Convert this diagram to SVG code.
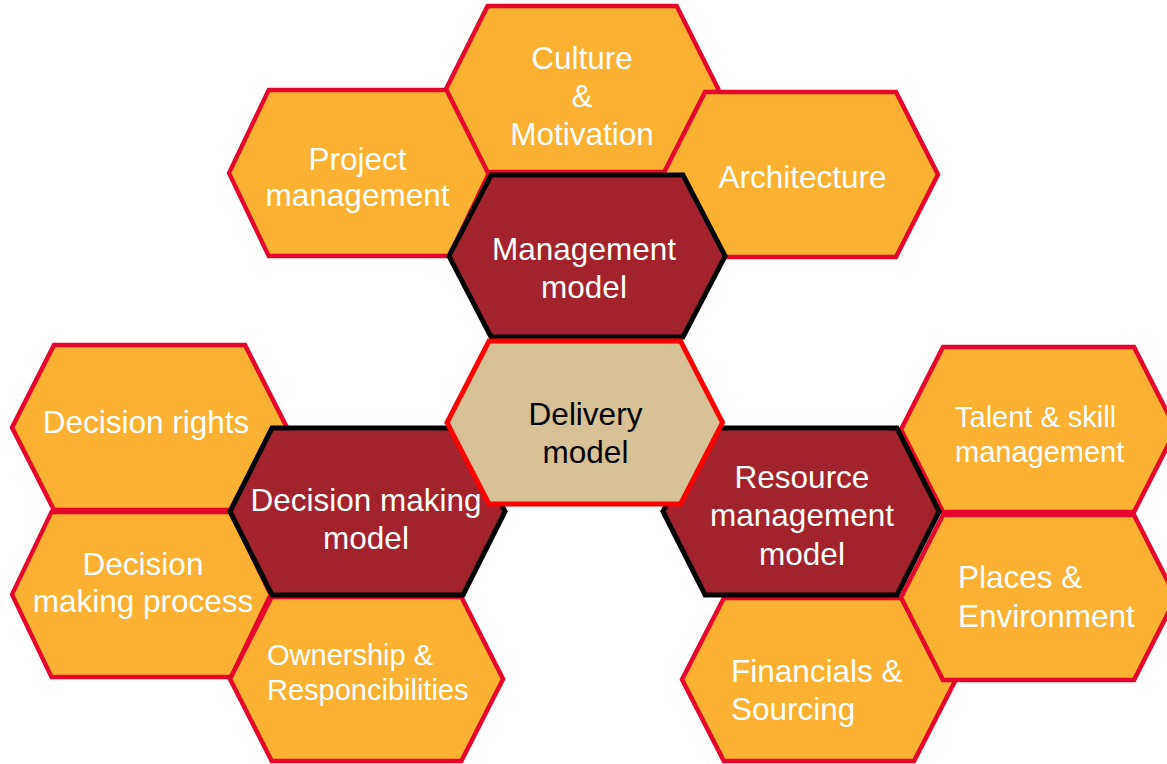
<svg xmlns="http://www.w3.org/2000/svg" width="1167" height="764" viewBox="0 0 1167 764">
<style>
.o{fill:#FBB131;stroke:#E5062B;stroke-width:4.5;stroke-linejoin:miter}
.d{fill:#A2232D;stroke:#000;stroke-width:5}
.c{fill:#D6C294;stroke:#FF0000;stroke-width:5}
text{font-family:"Liberation Sans",Arial,sans-serif;font-size:31.5px;fill:#fff}
.m{text-anchor:middle}
.s{font-size:29px}
.k{fill:#000}
</style>
<defs>
<polygon id="hex" points="0,82.5 42,0 233,0 275,82.5 233,165 42,165"/>
</defs>
<g id="connectors"/>
<g id="project"><use href="#hex" class="o" transform="translate(229,90) scale(0.945,1.006)"/>
<text class="m" x="357.5" y="170">Project</text><text class="m" x="357.5" y="206">management</text></g>
<g id="culture"><use href="#hex" class="o" transform="translate(446,6) scale(0.99,1.006)"/>
<text class="m" x="582" y="69">Culture</text><text class="m" x="582" y="107">&amp;</text><text class="m" x="582" y="145">Motivation</text></g>
<g id="architecture"><use href="#hex" class="o" transform="translate(663,92) scale(1,1)"/>
<text class="m" x="802.5" y="188">Architecture</text></g>
<g id="management"><use href="#hex" class="d" transform="translate(449,175) scale(1.004,0.982)"/>
<text class="m" x="584" y="260">Management</text><text class="m" x="584" y="298">model</text></g>
<g id="decision-rights"><use href="#hex" class="o" transform="translate(12,345) scale(1,1)"/>
<text class="m" x="146" y="433">Decision rights</text></g>
<g id="decision-process"><use href="#hex" class="o" transform="translate(12,512) scale(0.94,1)"/>
<text class="m" x="143" y="575">Decision</text><text class="m" x="143" y="612">making process</text></g>
<g id="ownership"><use href="#hex" class="o" transform="translate(230,597) scale(0.993,0.994)"/>
<text class="s" x="267" y="665">Ownership &amp;</text><text class="s" x="267" y="700">Responcibilities</text></g>
<g id="decision-model"><use href="#hex" class="d" transform="translate(230,428) scale(1,1.012)"/>
<text class="m" x="366" y="511">Decision making</text><text class="m" x="366" y="549">model</text></g>
<g id="financials"><use href="#hex" class="o" transform="translate(682,598) scale(0.996,0.988)"/>
<text x="731" y="682">Financials &amp;</text><text x="731" y="720">Sourcing</text></g>
<g id="talent"><use href="#hex" class="o" transform="translate(901,347) scale(1,1)"/>
<text class="s" x="955" y="427">Talent &amp; skill</text><text class="s" x="955" y="462">management</text></g>
<g id="places"><use href="#hex" class="o" transform="translate(901,515) scale(1,1)"/>
<text x="958" y="588">Places &amp;</text><text x="958" y="627">Environment</text></g>
<g id="resource"><use href="#hex" class="d" transform="translate(663,428) scale(1.004,1.012)"/>
<text class="m" x="802" y="488">Resource</text><text class="m" x="802" y="526">management</text><text class="m" x="802" y="565">model</text></g>
<g id="delivery"><use href="#hex" class="c" transform="translate(447,341) scale(1.002,0.988)"/>
<text class="m k" x="585.5" y="425">Delivery</text><text class="m k" x="585.5" y="463">model</text></g>
</svg>
